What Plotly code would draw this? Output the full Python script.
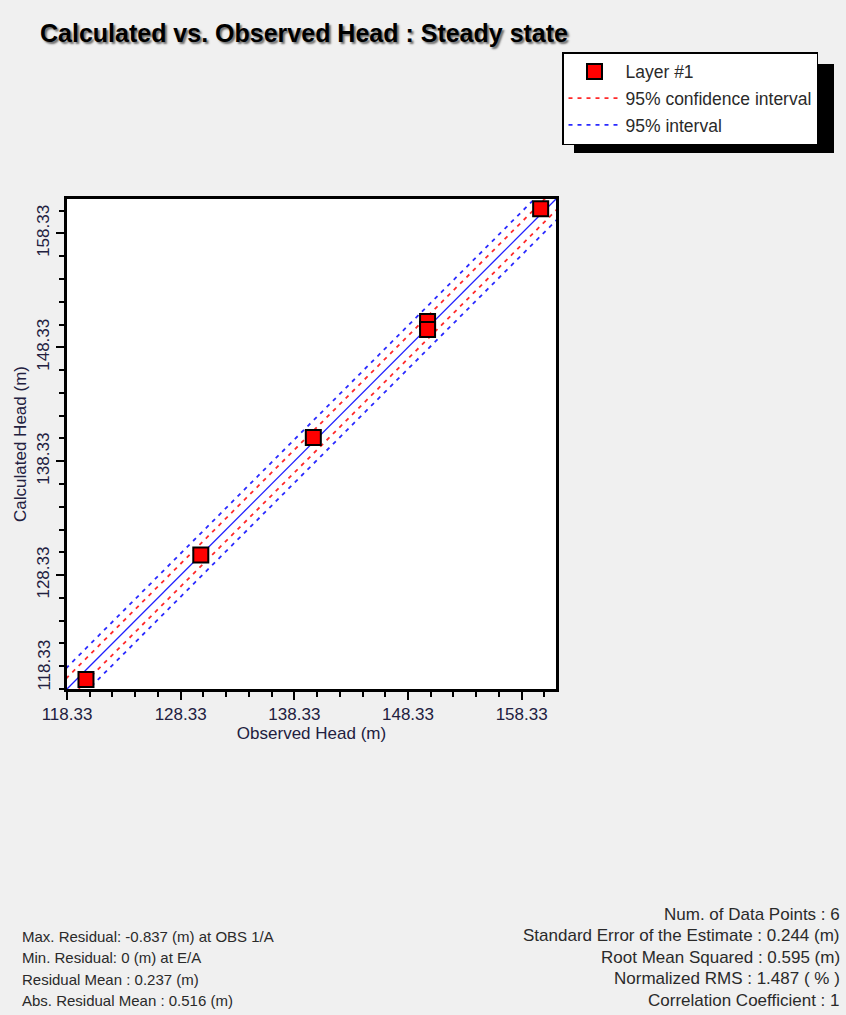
import plotly.graph_objects as go

# ---- data ----
observed = [120.0, 130.1, 140.0, 150.05, 150.05, 160.0]
calculated = [119.16, 130.1, 140.4, 150.6, 149.9, 160.5]
tick_vals = [118.33, 128.33, 138.33, 148.33, 158.33]
tick_text = ["118.33", "128.33", "138.33", "148.33", "158.33"]
axis_range = [118.33, 161.35]
line_x = [116.0, 164.0]
conf_offset = 1.0      # 95% confidence interval half-width
pred_offset = 1.9      # 95% interval half-width
stats_left = [
    "Max. Residual: -0.837 (m) at OBS 1/A",
    "Min. Residual: 0 (m) at E/A",
    "Residual Mean : 0.237 (m)",
    "Abs. Residual Mean : 0.516 (m)",
]
stats_right = [
    "Num. of Data Points : 6",
    "Standard Error of the Estimate : 0.244 (m)",
    "Root Mean Squared : 0.595 (m)",
    "Normalized RMS : 1.487 ( % )",
    "Correlation Coefficient : 1",
]

FONT = "Liberation Sans, Arial, sans-serif"
AXTXT = "#22203f"
TXT = "#2a2a2a"

fig = go.Figure()

# 1:1 line
fig.add_trace(go.Scatter(x=line_x, y=line_x, mode="lines",
                         line=dict(color="#2020ff", width=1.3),
                         showlegend=False, hoverinfo="skip"))

# 95% interval (blue)
fig.add_trace(go.Scatter(x=line_x, y=[v + pred_offset for v in line_x], mode="lines",
                         line=dict(color="#2a2aff", width=1.8, dash="4px,5px"),
                         name="95% interval", legendgroup="c", legendrank=3))
fig.add_trace(go.Scatter(x=line_x, y=[v - pred_offset for v in line_x], mode="lines",
                         line=dict(color="#2a2aff", width=1.8, dash="4px,5px"),
                         name="95% interval", legendgroup="c", showlegend=False))
# 95% confidence interval (red)
fig.add_trace(go.Scatter(x=line_x, y=[v + conf_offset for v in line_x], mode="lines",
                         line=dict(color="#ff2a2a", width=1.8, dash="4px,5px"),
                         name="95% confidence interval", legendgroup="b", legendrank=2))
fig.add_trace(go.Scatter(x=line_x, y=[v - conf_offset for v in line_x], mode="lines",
                         line=dict(color="#ff2a2a", width=1.8, dash="4px,5px"),
                         name="95% confidence interval", legendgroup="b", showlegend=False))

# data points
fig.add_trace(go.Scatter(x=observed, y=calculated, mode="markers",
                         marker=dict(symbol="square", size=15, color="#ff0000",
                                     line=dict(color="black", width=2)),
                         name="Layer #1", legendgroup="a", legendrank=1))

axis_common = dict(
    range=axis_range, showgrid=False, zeroline=False, automargin=False,
    showline=True, linecolor="black", linewidth=2.5, mirror=True,
    ticks="outside", ticklen=8, tickwidth=1.5, tickcolor="black",
    minor=dict(dtick=2, tick0=118.33, ticks="outside", ticklen=5, tickwidth=1.5, tickcolor="black"),
    tickfont=dict(family=FONT, size=17, color=AXTXT),
)

fig.update_xaxes(**axis_common, tickvals=tick_vals, ticktext=tick_text,
                 title=dict(text="Observed Head (m)", font=dict(family=FONT, size=17, color=AXTXT), standoff=4))
fig.update_yaxes(**axis_common, tickvals=tick_vals[1:], ticktext=tick_text[1:], tickangle=-90,
                 title=dict(text="Calculated Head (m)", font=dict(family=FONT, size=17, color=AXTXT), standoff=4))

annotations = []
# y tick label for the axis origin, lifted above the corner
annotations.append(dict(xref="paper", yref="y", x=0, y=tick_vals[0] + 2.1, text=tick_text[0],
                        textangle=-90, showarrow=False, xanchor="right", yanchor="middle",
                        xshift=-11, font=dict(family=FONT, size=17, color=AXTXT)))

for i, t in enumerate(stats_left):
    annotations.append(dict(xref="paper", yref="paper", x=0, y=0, text=t, showarrow=False,
                            xanchor="left", yanchor="middle",
                            xshift=20 - 67, yshift=-(936 - 689) - i * 21.5,
                            font=dict(family=FONT, size=15, color=TXT)))
for i, t in enumerate(stats_right):
    annotations.append(dict(xref="paper", yref="paper", x=1, y=0, text=t, showarrow=False,
                            xanchor="right", yanchor="middle",
                            xshift=842 - 556, yshift=-(914 - 689) - i * 21.5,
                            font=dict(family=FONT, size=17, color=TXT)))

# legend shadow (paper coords of plot domain)
px0, px1, py_top, py_bot = 67.0, 556.0, 199.0, 689.0
def pxx(p):
    return (p - px0) / (px1 - px0)
def pyy(p):
    return (py_bot - p) / (py_bot - py_top)

shapes = [dict(type="rect", xref="paper", yref="paper",
               x0=pxx(574), x1=pxx(834), y0=pyy(153), y1=pyy(64),
               fillcolor="black", line=dict(width=0), layer="below")]

fig.update_layout(
    width=846, height=1015,
    margin=dict(l=67, r=290, t=199, b=326, autoexpand=False),
    paper_bgcolor="#f0f0f0", plot_bgcolor="white",
    title=dict(text="<b>Calculated vs. Observed Head : Steady state</b>",
               x=40 / 846, xref="container", xanchor="left",
               y=1 - 33 / 1015, yref="container", yanchor="middle",
               font=dict(family=FONT, size=25, color="black",
                         shadow="2px 2px 2px rgba(0,0,0,0.55)")),
    legend=dict(xref="container", yref="container", x=562 / 846, y=1 - 52 / 1015,
                xanchor="left", yanchor="top", bgcolor="white",
                bordercolor="black", borderwidth=1.5,
                font=dict(family=FONT, size=17.5, color=TXT),
                itemwidth=52, traceorder="grouped", tracegroupgap=1),
    annotations=annotations, shapes=shapes,
    showlegend=True,
)

fig.write_html("out.html", config={"displayModeBar": False},
               post_script="document.body.style.margin='0';document.body.style.background='#f0f0f0';document.body.style.overflow='hidden';")
